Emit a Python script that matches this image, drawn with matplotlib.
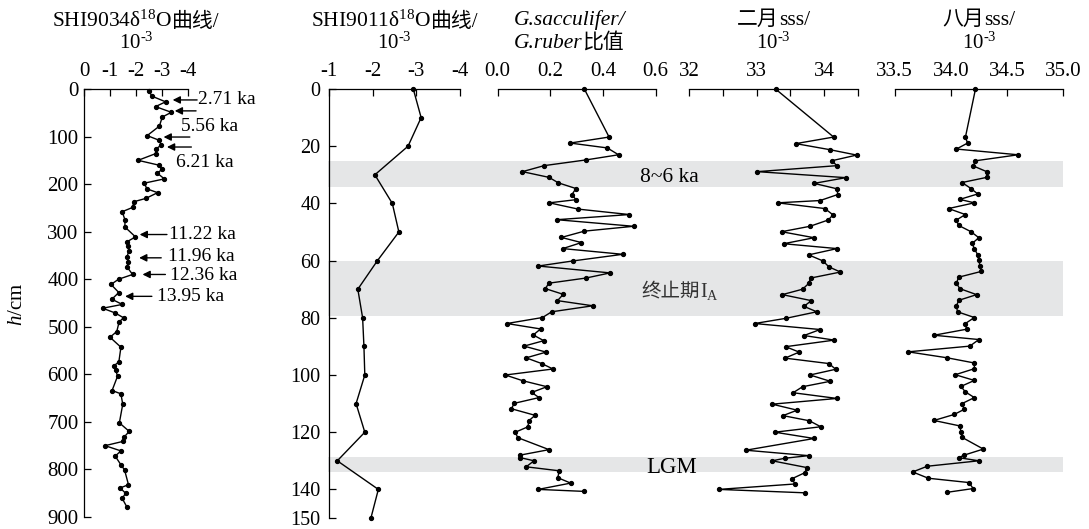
import numpy as np
import matplotlib
matplotlib.use("Agg")
import matplotlib.pyplot as plt
import matplotlib.transforms as mtransforms
from matplotlib.patches import Rectangle

plt.rcParams['font.family'] = ['Liberation Serif', 'DejaVu Serif', 'Noto Sans CJK SC']
plt.rcParams['mathtext.fontset'] = 'custom'
plt.rcParams['mathtext.rm'] = 'Liberation Serif'
plt.rcParams['mathtext.it'] = 'Liberation Serif:italic'
plt.rcParams['axes.unicode_minus'] = False
plt.rcParams['font.size'] = 15

# SHI9034 d18O (depth cm, value)
p1_depth = [5, 15, 27, 37, 49, 59, 78, 98, 108, 118, 126, 136, 150, 160, 169, 177, 189, 198,
            210, 218, 230, 237, 249, 258, 276, 290, 311, 321, 330, 341, 354, 364, 374, 390,
            400, 411, 428, 442, 453, 461, 471, 481, 490, 510, 522, 543, 574, 582, 591, 604,
            634, 641, 663, 702, 720, 732, 741, 750, 761, 772, 791, 801, 832, 839, 850, 861, 879]
p1_val = [-2.51, -2.61, -3.14, -2.75, -3.36, -3.01, -2.9, -2.43, -2.9, -2.97, -2.77, -2.75,
          -2.08, -2.87, -3.0, -2.82, -3.09, -2.32, -2.42, -2.83, -2.38, -1.92, -1.87, -1.47,
          -1.58, -1.57, -1.98, -1.66, -1.71, -1.72, -1.65, -1.71, -1.65, -1.87, -1.33, -1.04,
          -1.34, -1.07, -1.47, -0.72, -1.2, -1.52, -1.35, -1.26, -1.0, -1.42, -1.34, -1.15,
          -1.22, -1.29, -1.08, -1.42, -1.49, -1.36, -1.74, -1.54, -1.5, -0.81, -1.42, -1.2,
          -1.43, -1.56, -1.71, -1.39, -1.6, -1.47, -1.65]

# age marks on SHI9034
ages = ["2.71 ka", "", "5.56 ka", "", "6.21 ka", "11.22 ka", "11.96 ka", "12.36 ka", "13.95 ka"]
age_arrow_depth = [23, 46, None, 101, None, 306, 355, 390, 436]
age_tip = [-3.41, -3.49, None, -3.06, None, -2.14, -2.12, -2.25, -1.58]
age_tail = [-4.35, -4.31, None, -4.07, None, -3.19, -2.97, -3.13, -2.61]
age_text_x = [-4.4, None, -3.73, None, -3.55, -3.28, -3.25, -3.32, -2.8]
age_text_depth = [23, None, 79, None, 154, 306, 353, 392, 436]
age_tip2 = -3.19
age_tail2 = -4.13
age_depth2 = 122

# SHI9011 d18O
p2_depth = [0, 10, 20, 30, 40, 50, 60, 70, 80, 90, 100, 110, 120, 130, 140, 150]
p2_val = [-2.93, -3.11, -2.81, -2.05, -2.45, -2.6, -2.11, -1.66, -1.77, -1.8, -1.82, -1.62,
          -1.82, -1.19, -2.13, -1.96]

# G.sacculifer / G.ruber ratio
p3_depth = [0, 16.8, 18.9, 20.6, 23, 24.8, 26.8, 28.9, 30.9, 32.8, 34.8, 36.9, 38.7, 39.8, 42,
            43.9, 45.7, 48, 49.7, 51.9, 53.7, 55.8, 57.8, 60.1, 61.9, 64.3, 66.1, 67.9, 69.8,
            71.8, 74, 75.8, 77.9, 79.9, 82, 83.9, 86, 88, 89.9, 92, 94, 96, 97.9, 100, 102,
            104.1, 106.1, 107.9, 109.9, 111.8, 114.1, 116, 118.1, 120, 121.9, 126.1, 128,
            128.9, 130, 132.1, 133.5, 135.9, 137.8, 140, 140.7]
p3_val = [0.329, 0.423, 0.275, 0.416, 0.459, 0.335, 0.176, 0.094, 0.195, 0.23, 0.297, 0.282,
          0.297, 0.196, 0.306, 0.5, 0.224, 0.516, 0.329, 0.242, 0.318, 0.247, 0.475, 0.287,
          0.154, 0.427, 0.335, 0.194, 0.181, 0.249, 0.227, 0.361, 0.205, 0.17, 0.035, 0.163,
          0.135, 0.175, 0.1, 0.184, 0.108, 0.167, 0.21, 0.029, 0.095, 0.187, 0.129, 0.157,
          0.063, 0.052, 0.142, 0.118, 0.115, 0.067, 0.076, 0.195, 0.086, 0.086, 0.138, 0.108,
          0.234, 0.228, 0.277, 0.154, 0.329]

# February SSS
p4_depth = [0, 16.8, 19.1, 21.2, 23.1, 25.1, 26.8, 28.9, 31, 33, 34.9, 36.9, 39, 39.8, 41.8,
            44, 45.8, 48, 49.9, 52, 54.1, 55.8, 58, 60.1, 62.2, 64, 66.1, 68, 70, 71.9, 74,
            76, 77.9, 80.2, 82, 84.1, 86.2, 87.8, 90.1, 92, 94.1, 96, 98, 100, 102.2, 104.1,
            106.2, 108.2, 110.2, 112.3, 114.2, 116, 118.1, 120, 122.2, 126.3, 128.2, 129.1,
            130, 132.4, 134.2, 136.3, 138.1, 140, 141.2]
p4_val = [33.28, 34.14, 33.58, 34.08, 34.48, 34.11, 34.19, 33.01, 34.32, 33.85, 34.19, 34.2,
          33.94, 33.31, 34.01, 34.13, 34.06, 33.79, 33.37, 33.85, 33.4, 34.19, 33.77, 33.98,
          34.07, 34.24, 33.8, 33.77, 33.68, 33.38, 33.81, 33.7, 33.89, 33.43, 32.97, 33.94,
          33.7, 34.15, 33.43, 33.63, 33.42, 34.07, 34.17, 33.79, 34.09, 33.68, 33.54, 34.19,
          33.23, 33.6, 33.39, 33.78, 33.95, 33.27, 33.85, 32.84, 33.77, 33.42, 33.23, 33.75,
          33.71, 33.52, 33.57, 32.44, 33.72]

# August SSS
p5_depth = [0, 16.9, 18.9, 21, 23, 25.1, 26.9, 28.9, 30.9, 32.7, 34.8, 36.7, 38.6, 39.8, 41.8,
            43.9, 45.8, 47.7, 49.9, 52, 54, 55.8, 58, 59.9, 61.8, 63.8, 65.8, 67.9, 69.8, 71.9,
            73.9, 75.9, 77.9, 79.9, 82, 84, 86.1, 87.6, 89.9, 91.9, 94, 95.8, 97.8, 99.9,
            101.9, 104, 105.9, 107.9, 110, 112, 113.8, 115.9, 117.8, 119.8, 121.8, 125.9, 128,
            128.9, 130, 131.9, 133.9, 136.1, 137.6, 139.7, 141]
p5_val = [34.22, 34.13, 34.15, 34.05, 34.6, 34.22, 34.2, 34.32, 34.32, 34.1, 34.18, 34.24,
          34.08, 34.21, 33.98, 34.13, 34.05, 34.07, 34.18, 34.25, 34.19, 34.21, 34.24, 34.25,
          34.26, 34.27, 34.07, 34.05, 34.08, 34.23, 34.07, 34.05, 34.06, 34.21, 34.13, 34.14,
          33.85, 34.25, 34.17, 33.62, 33.97, 34.21, 34.21, 34.04, 34.21, 34.09, 34.13, 34.21,
          34.1, 34.12, 34.03, 33.85, 34.08, 34.09, 34.1, 34.29, 34.12, 34.07, 34.25, 33.79,
          33.66, 33.8, 34.16, 34.2, 33.97]

# grey bands (depth cm in SHI9011 scale)
band_top = [25.1, 60.2, 128.8]
band_bot = [34.3, 79.2, 133.9]

W, H = 1089, 529
fig = plt.figure(figsize=(W / 100, H / 100), dpi=100)
renderer = fig.canvas.get_renderer()


def ax_px(x0, x1, ytop, ybot):
    return fig.add_axes([x0 / W, (H - ybot) / H, (x1 - x0) / W, (ybot - ytop) / H])


def text_row(xc, yb, pieces, align='center'):
    objs = [fig.text(0, 1 - yb / H, s, va='baseline', ha='left', **kw) for s, kw in pieces]
    widths = [t.get_window_extent(renderer).width for t in objs]
    x = xc - sum(widths) / 2 if align == 'center' else xc
    for t, w in zip(objs, widths):
        t.set_x(x / W)
        x += w


def style(ax, left=True):
    ax.set_facecolor('none')
    ax.xaxis.tick_top()
    for s in ['right', 'bottom']:
        ax.spines[s].set_visible(False)
    ax.spines['left'].set_visible(left)
    for s in ax.spines.values():
        s.set_linewidth(0.9)
    ax.tick_params(axis='x', which='both', direction='in', length=5, width=0.9, pad=6,
                   labelsize=15, top=True, bottom=False)
    if left:
        ax.tick_params(axis='y', direction='in', length=5, width=0.9, pad=4, labelsize=15)
    else:
        ax.set_yticks([])


line_kw = dict(color='k', lw=1.0, marker='o', ms=2.8, clip_on=False)

# panel 1
ax1 = ax_px(84, 188, 89, 517)
style(ax1)
ax1.plot(p1_val, p1_depth, **line_kw)
ax1.set_xlim(0, -4)
ax1.set_ylim(900, 0)
ax1.set_xticks([0, -1, -2, -3, -4])
ax1.set_yticks(range(0, 901, 100))
arrow_kw = dict(arrowstyle='-|>', color='k', lw=1.0, mutation_scale=11, shrinkA=0, shrinkB=0)
for i in range(len(ages)):
    if age_arrow_depth[i] is not None:
        ax1.annotate('', xy=(age_tip[i], age_arrow_depth[i]),
                     xytext=(age_tail[i], age_arrow_depth[i]),
                     arrowprops=arrow_kw, annotation_clip=False)
    if ages[i]:
        ax1.text(age_text_x[i], age_text_depth[i], ages[i], va='center', ha='left',
                 fontsize=14, clip_on=False)
ax1.annotate('', xy=(age_tip2, age_depth2), xytext=(age_tail2, age_depth2),
             arrowprops=arrow_kw, annotation_clip=False)

# panel 2
ax2 = ax_px(329, 460, 89, 518)
style(ax2)
ax2.tick_params(axis='y', pad=6, labelsize=14.5)
ax2.plot(p2_val, p2_depth, **line_kw)
ax2.set_xlim(-1, -4)
ax2.set_ylim(150, 0)
ax2.set_xticks([-1, -2, -3, -4])
ax2.set_yticks(list(range(0, 141, 20)) + [150])

# panel 3
ax3 = ax_px(497.7, 655.7, 89, 518)
style(ax3, left=False)
ax3.plot(p3_val, p3_depth, **line_kw)
ax3.set_xlim(0, 0.6)
ax3.set_ylim(150, 0)
ax3.set_xticks([0, 0.2, 0.4, 0.6])
ax3.set_xticklabels(['0.0', '0.2', '0.4', '0.6'])

# panel 4
ax4 = ax_px(689, 858, 89, 518)
style(ax4, left=False)
ax4.plot(p4_val, p4_depth, **line_kw)
ax4.set_xlim(32, 34.5)
ax4.set_ylim(150, 0)
ax4.set_xticks([32, 33, 34])
ax4.set_xticks([32.5, 33.5, 34.5], minor=True)
ax4.set_xticklabels(['32', '33', '34'])

# panel 5
ax5 = ax_px(894.7, 1063, 89, 518)
style(ax5, left=False)
ax5.plot(p5_val, p5_depth, **line_kw)
ax5.set_xlim(33.5, 35.0)
ax5.set_ylim(150, 0)
ax5.set_xticks([33.5, 34.0, 34.5, 35.0])
ax5.set_xticklabels(['33.5', '34.0', '34.5', '35.0'])

# grey bands across panels 2-5
trans = mtransforms.blended_transform_factory(fig.transFigure, ax2.transData)
for t0, t1 in zip(band_top, band_bot):
    fig.add_artist(Rectangle((327.5 / W, t0), (1063 - 327.5) / W, t1 - t0, transform=trans,
                             facecolor='#e5e6e7', edgecolor='none', zorder=-1))

# band labels
text_row(669, 181.7, [('8~6 ka', dict(fontsize=15.5))])
text_row(680, 296.7, [('终止期', dict(fontsize=14, color='#333333')),
                      ('I$_{\\mathrm{A}}$', dict(fontsize=14.5, color='#333333'))])
text_row(672, 472.7, [('LGM', dict(fontsize=16.5))])

# titles
sup = '10$^{\\text{-}3}$'
text_row(136, 26.7, [('SHI9034δ$^{18}$O', dict(fontsize=15.5)), ('曲线/', dict(fontsize=15))])
text_row(136, 49, [(sup, dict(fontsize=15))])
text_row(394.5, 26.7, [('SHI9011δ$^{18}$O', dict(fontsize=15.5)), ('曲线/', dict(fontsize=15))])
text_row(394.5, 49, [(sup, dict(fontsize=15))])
text_row(514, 25, [('G.sacculifer/', dict(fontstyle='italic', fontsize=15.5))], align='left')
text_row(514, 47.7, [('G.ruber', dict(fontstyle='italic', fontsize=15.5)),
                     ('比值', dict(fontsize=15))], align='left')
text_row(773.5, 25, [('二月', dict(fontsize=15)), ('sss/', dict(fontsize=15.5))])
text_row(773.5, 49, [(sup, dict(fontsize=15))])
text_row(979, 25, [('八月', dict(fontsize=15)), ('sss/', dict(fontsize=15.5))])
text_row(979, 49, [(sup, dict(fontsize=15))])

fig.text(17 / W, 1 - 304 / H, '$h$/cm', rotation=90, va='center', ha='center', fontsize=15)

fig.savefig('out.png', dpi=100)
